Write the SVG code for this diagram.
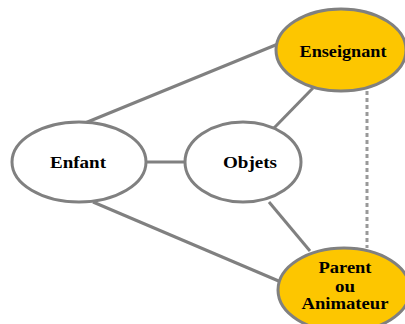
<svg xmlns="http://www.w3.org/2000/svg" width="405" height="324" viewBox="0 0 405 324">
  <style>
    .edge { stroke: #808080; stroke-width: 3; fill: none; }
    .dash { stroke: #999999; stroke-width: 3; stroke-dasharray: 4 3; fill: none; }
    .plain { fill: #ffffff; stroke: #808080; stroke-width: 3; }
    .gold { fill: #fdc600; stroke: #808080; stroke-width: 3; }
    .label { font-family: "Liberation Serif", "Times New Roman", serif; font-weight: bold; font-size: 16px; fill: #000000; text-anchor: middle; }
  </style>
  <rect width="405" height="324" fill="#ffffff"/>
  <g id="connectors">
    <line class="edge" x1="85" y1="123" x2="278" y2="44"/>
    <line class="edge" x1="93" y1="202" x2="281" y2="282"/>
    <line class="edge" x1="146" y1="162" x2="185" y2="162"/>
    <line class="edge" x1="274" y1="128" x2="313" y2="88"/>
    <line class="edge" x1="269" y1="202" x2="310" y2="251"/>
    <line class="dash" x1="367" y1="91" x2="367" y2="248"/>
  </g>
  <g id="enfant">
    <ellipse class="plain" cx="79" cy="162" rx="67" ry="40"/>
    <text class="label" x="78" y="168" textLength="56" lengthAdjust="spacingAndGlyphs">Enfant</text>
  </g>
  <g id="objets">
    <ellipse class="plain" cx="243" cy="162" rx="58" ry="40"/>
    <text class="label" x="250" y="168" textLength="54" lengthAdjust="spacingAndGlyphs">Objets</text>
  </g>
  <g id="enseignant">
    <ellipse class="gold" cx="341" cy="50" rx="65" ry="41"/>
    <text class="label" x="343" y="57" textLength="87" lengthAdjust="spacingAndGlyphs">Enseignant</text>
  </g>
  <g id="parent">
    <ellipse class="gold" cx="344" cy="290" rx="66" ry="42"/>
    <text class="label" x="345" y="273" textLength="53" lengthAdjust="spacingAndGlyphs">Parent</text>
    <text class="label" x="345" y="292" textLength="20" lengthAdjust="spacingAndGlyphs">ou</text>
    <text class="label" x="345" y="309" textLength="87" lengthAdjust="spacingAndGlyphs">Animateur</text>
  </g>
</svg>
